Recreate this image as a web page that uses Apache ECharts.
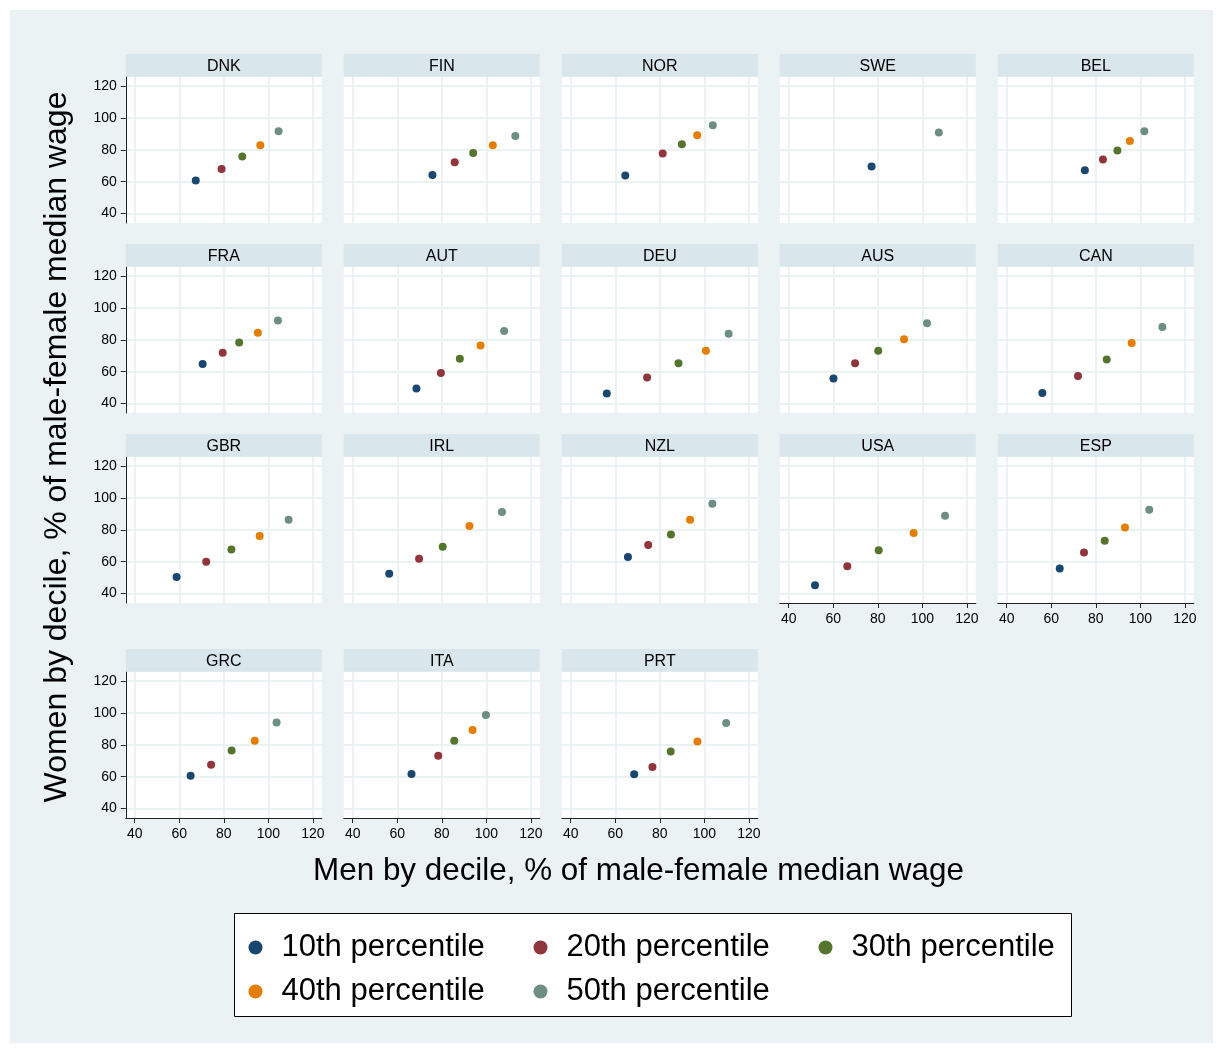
<!DOCTYPE html>
<html>
<head>
<meta charset="utf-8">
<script src="https://cdn.jsdelivr.net/npm/echarts@6/dist/echarts.min.js"></script>
<style>
  html, body { margin: 0; padding: 0; background: #ffffff; }
  #chart { width: 1223px; height: 1053px; box-sizing: border-box; border: 10px solid #ffffff; background: #eaf2f3; }
</style>
</head>
<body>
<div id="chart"></div>
<script>
// ---------------- data ----------------
const countries = ['DNK','FIN','NOR','SWE','BEL','FRA','AUT','DEU','AUS','CAN','GBR','IRL','NZL','USA','ESP','GRC','ITA','PRT'];
const seriesNames = ['10th percentile','20th percentile','30th percentile','40th percentile','50th percentile'];
// Men by decile (x), % of male-female median wage
const men10 = [67.4, 75.8, 64.5, 77.2, 75.1, 70.5, 68.6, 56.2, 60.1, 56.0, 58.8, 56.4, 65.7, 51.8, 63.8, 65.1, 66.4, 68.5];
const men20 = [79.0, 85.8, 81.3, null, 83.2, 79.5, 79.6, 74.3, 69.8, 72.0, 72.1, 69.8, 74.8, 66.3, 74.7, 74.3, 78.4, 76.7];
const men30 = [88.3, 94.1, 89.9, null, 89.7, 86.9, 88.1, 88.4, 80.2, 84.9, 83.4, 80.4, 85.0, 80.4, 84.0, 83.5, 85.6, 84.9];
const men40 = [96.4, 102.9, 96.8, null, 95.3, 95.3, 97.4, 100.7, 91.8, 96.1, 96.1, 92.4, 93.6, 96.1, 93.1, 93.9, 93.8, 96.9];
const men50 = [104.6, 113.0, 103.8, 107.4, 101.8, 104.3, 108.0, 110.9, 102.1, 109.9, 109.1, 107.0, 103.6, 110.2, 104.0, 103.7, 99.8, 109.8];
// Women by decile (y), % of male-female median wage
const women10 = [60.7, 64.2, 63.8, 69.5, 67.2, 64.8, 49.4, 46.3, 55.7, 46.5, 50.3, 52.4, 63.0, 45.1, 55.7, 60.5, 61.7, 61.5];
const women20 = [68.0, 72.2, 77.7, null, 73.9, 71.9, 59.1, 56.3, 65.3, 57.2, 60.0, 61.9, 70.4, 57.1, 65.8, 67.5, 73.1, 66.1];
const women30 = [75.8, 78.0, 83.5, null, 79.6, 78.4, 68.1, 65.3, 73.1, 67.7, 67.6, 69.3, 77.0, 67.2, 73.2, 76.5, 82.5, 75.8];
const women40 = [82.9, 82.9, 89.2, null, 85.6, 84.5, 76.5, 73.1, 80.4, 78.0, 76.1, 82.4, 86.4, 78.0, 81.4, 82.6, 89.3, 82.1];
const women50 = [91.7, 88.7, 95.5, 90.9, 91.7, 92.1, 85.6, 83.8, 90.5, 88.1, 86.4, 91.3, 96.4, 88.8, 92.7, 94.0, 98.7, 93.7];
const xTicks = [40, 60, 80, 100, 120];
const yTicks = [40, 60, 80, 100, 120];
const xTitle = 'Men by decile, % of male-female median wage';
const yTitle = 'Women by decile, % of male-female median wage';

// ---------------- style / layout ----------------
const colors = ['#1a476f', '#90353b', '#55752f', '#e37e00', '#6e8e84'];
const FONT = '"Liberation Sans", Arial, Helvetica, sans-serif';
const OX = 10, OY = 10; // white page margin
const colLeft = [125.8, 343.8, 561.8, 779.8, 997.8];
const rowTop = [54, 244, 434, 649];
const headerH = 22.7, plotW = 196, plotH = 146.3;
const NCOL = 5;

const menArr = [men10, men20, men30, men40, men50];
const womenArr = [women10, women20, women30, women40, women50];

const grids = [], xAxes = [], yAxes = [], series = [], graphics = [];
countries.forEach((c, i) => {
  const row = Math.floor(i / NCOL), col = i % NCOL;
  const left = colLeft[col] - OX;
  const top = rowTop[row] - OY;
  const showY = col === 0;
  const showX = row === 3 || (row === 2 && col >= 3);
  grids.push({ left: left, top: top + headerH, width: plotW, height: plotH,
    show: true, backgroundColor: '#ffffff', borderWidth: 0, containLabel: false });
  xAxes.push({
    type: 'value', gridIndex: i, min: 36, max: 124,
    axisLine: { show: showX, onZero: false, lineStyle: { color: '#222', width: 1 } },
    axisTick: { show: showX, length: 5, customValues: xTicks, lineStyle: { color: '#222', width: 1 } },
    axisLabel: { show: showX, customValues: xTicks, margin: 9, fontSize: 14, color: '#000', fontFamily: FONT },
    splitLine: { show: true, lineStyle: { color: '#eaf2f3', width: 2 } }
  });
  yAxes.push({
    type: 'value', gridIndex: i, min: 34, max: 126,
    axisLine: { show: showY, onZero: false, lineStyle: { color: '#222', width: 1 } },
    axisTick: { show: showY, length: 5, customValues: yTicks, lineStyle: { color: '#222', width: 1 } },
    axisLabel: { show: showY, customValues: yTicks, margin: 9, fontSize: 14, color: '#000', fontFamily: FONT },
    splitLine: { show: true, lineStyle: { color: '#eaf2f3', width: 2 } }
  });
  // panel header
  graphics.push({ type: 'rect', shape: { x: left, y: top, width: plotW, height: headerH },
    style: { fill: '#d9e6eb' }, z: 1 });
  graphics.push({ type: 'text', x: left + plotW / 2, y: top + headerH / 2 + 1, z: 2,
    style: { text: c, align: 'center', verticalAlign: 'middle', font: '16px ' + FONT, fill: '#000' } });
  for (let p = 0; p < 5; p++) {
    const mx = menArr[p][i], wy = womenArr[p][i];
    if (mx == null || wy == null) continue;
    series.push({
      type: 'scatter', name: seriesNames[p], xAxisIndex: i, yAxisIndex: i,
      data: [[mx, wy]], symbol: 'circle', symbolSize: 8,
      itemStyle: { color: colors[p], opacity: 1 }, silent: true
    });
  }
});

graphics.push({ type: 'text', x: 57 - OX, y: 447 - OY, rotation: Math.PI / 2, z: 2,
  style: { text: yTitle, align: 'center', verticalAlign: 'middle', font: '32px ' + FONT, fill: '#000' } });
graphics.push({ type: 'text', x: 638.5 - OX, y: 871 - OY, z: 2,
  style: { text: xTitle, align: 'center', verticalAlign: 'middle', font: '31.4px ' + FONT, fill: '#000' } });
// legend frame
graphics.push({ type: 'rect', shape: { x: 234.5 - OX, y: 913.5 - OY, width: 837, height: 103 },
  style: { fill: '#ffffff', stroke: '#000', lineWidth: 1 }, z: 1 });

const chart = echarts.init(document.getElementById('chart'), null, { renderer: 'canvas' });
chart.setOption({
  animation: false,
  backgroundColor: '#eaf2f3',
  textStyle: { fontFamily: FONT },
  grid: grids,
  xAxis: xAxes,
  yAxis: yAxes,
  series: series,
  graphic: graphics,
  legend: {
    data: seriesNames,
    orient: 'horizontal',
    left: 248.5 - OX, top: 932 - OY, width: 860,
    icon: 'circle', itemWidth: 42, itemHeight: 14, itemGap: 13,
    padding: 0, z: 5,
    selectedMode: false,
    formatter: name => '{a|' + name + '}',
    textStyle: { rich: { a: { width: 239, fontSize: 31, lineHeight: 28, color: '#000', fontFamily: FONT } } }
  }
});
</script>
</body>
</html>
